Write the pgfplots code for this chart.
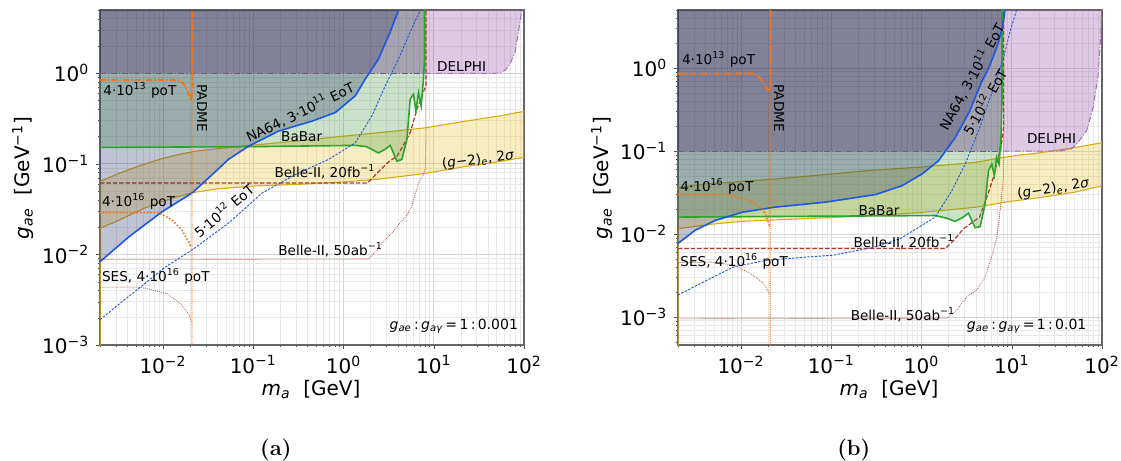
\documentclass[border=0pt]{standalone}
\usepackage{fontspec}
\usepackage{pgfplots}
\pgfplotsset{compat=1.18}
\newfontfamily\dejavu{DejaVu Sans}
\newcommand\fsz[1]{\fontsize{#1}{#1}\selectfont}
\definecolor{na64}{RGB}{30,88,225}
\definecolor{na64fill}{RGB}{30,40,100}
\definecolor{babar}{RGB}{44,165,44}
\definecolor{babarfill}{RGB}{60,150,60}
\definecolor{gm2line}{RGB}{218,172,20}
\definecolor{gm2fill}{RGB}{232,200,64}
\definecolor{belle}{RGB}{178,52,40}
\definecolor{belletwo}{RGB}{180,70,55}
\definecolor{padme}{RGB}{245,115,20}
\definecolor{ses}{RGB}{185,75,40}
\definecolor{delphi}{RGB}{150,80,170}
\definecolor{delphiline}{RGB}{165,110,190}
\definecolor{grayreg}{RGB}{45,40,70}
\definecolor{grayline}{RGB}{110,95,130}
\newcommand\gae{{\itshape g}\textsubscript{\itshape ae}}
\newcommand\gag{{\itshape g}\textsubscript{\itshape aγ}}
\newcommand\mneg{−}
\tikzset{ann/.style={font=\dejavu\fsz{6.8}, inner sep=0pt, text=black}}
\begin{document}
\begin{tikzpicture}
\useasboundingbox (0,0) rectangle (560.5pt,230.5pt);
%================ panel (a) ================
\begin{axis}[xmode=log, ymode=log, scale only axis, width=212pt, height=167.5pt,
    at={(50pt,58pt)}, anchor=south west,
    xmin=0.002, xmax=100, ymin=0.001, ymax=5,
    xtick={0.01,0.1,1,10,100},
    xticklabels={10\textsuperscript{\mneg2},10\textsuperscript{\mneg1},10\textsuperscript{0},10\textsuperscript{1},10\textsuperscript{2}},
    minor xtick={0.002,0.003,0.004,0.005,0.006,0.007,0.008,0.009,0.02,0.03,0.04,0.05,0.06,0.07,0.08,0.09,0.2,0.3,0.4,0.5,0.6,0.7,0.8,0.9,2,3,4,5,6,7,8,9,20,30,40,50,60,70,80,90},
    ytick={0.001,0.01,0.1,1},
    yticklabels={10\textsuperscript{\mneg3},10\textsuperscript{\mneg2},10\textsuperscript{\mneg1},10\textsuperscript{0}},
    minor ytick={0.002,0.003,0.004,0.005,0.006,0.007,0.008,0.009,0.02,0.03,0.04,0.05,0.06,0.07,0.08,0.09,0.2,0.3,0.4,0.5,0.6,0.7,0.8,0.9,2,3,4,5},
    grid=both,
    major grid style={black!17,line width=0.4pt},
    minor grid style={black!9,line width=0.35pt},
    tick align=outside, xtick pos=left, ytick pos=left,
    major tick length=1.8pt, minor tick length=1pt,
    tick style={black!70},
    axis line style={black!60,line width=0.6pt},
    tick label style={font=\dejavu\fsz{10}},
    clip=true]
% (g-2)_e band
\addplot[draw=none, fill=gm2fill, fill opacity=0.33] coordinates {
 (0.002,0.064) (0.003,0.076) (0.0042,0.0865) (0.0065,0.101) (0.0098,0.1145) (0.015,0.127) (0.023,0.138) (0.04,0.147) (0.063,0.154) (0.12,0.164) (0.29,0.178) (0.7,0.195) (1.6,0.212) (4,0.232) (8,0.25) (23,0.297) (50,0.335) (100,0.38)
 (100,0.118) (50,0.105) (23,0.094) (7.8,0.078) (2.5,0.068) (1,0.063) (0.33,0.0595) (0.1,0.057) (0.04,0.053) (0.021,0.048) (0.014,0.043) (0.0095,0.038) (0.006,0.032) (0.0042,0.027) (0.003,0.023) (0.002,0.0195)};
\addplot[gm2line, line width=0.55pt] coordinates {
 (0.002,0.064) (0.003,0.076) (0.0042,0.0865) (0.0065,0.101) (0.0098,0.1145) (0.015,0.127) (0.023,0.138) (0.04,0.147) (0.063,0.154) (0.12,0.164) (0.29,0.178) (0.7,0.195) (1.6,0.212) (4,0.232) (8,0.25) (23,0.297) (50,0.335) (100,0.38)};
\addplot[gm2line, line width=0.55pt] coordinates {
 (0.002,0.0001) (0.002,0.0195) (0.003,0.023) (0.0042,0.027) (0.006,0.032) (0.0095,0.038) (0.014,0.043) (0.021,0.048) (0.04,0.053) (0.1,0.057) (0.33,0.0595) (1,0.063) (2.5,0.068) (7.8,0.078) (23,0.094) (50,0.105) (100,0.118)};
% Belle-II 20fb
\addplot[belle, line width=0.6pt, dash pattern=on 2.2pt off 1pt] coordinates {
 (0.002,0.0615) (1.85,0.0615) (2.44,0.082) (3.15,0.105) (3.9,0.121) (4.43,0.15) (5.48,0.221) (6.5,0.40) (7.8,0.65) (8.2,0.72) (8.2,6)};
% BaBar region
\addplot[draw=none, fill=babarfill, fill opacity=0.28] coordinates {
 (0.002,0.152) (0.1,0.155) (1.35,0.16) (1.8,0.155) (2.44,0.132) (2.9,0.145) (3.29,0.160) (3.6,0.13) (3.9,0.107) (4.43,0.112) (5.04,0.186) (5.48,0.518) (5.96,0.589) (6.34,0.384) (6.78,0.615) (7.25,0.436) (7.69,0.865) (7.8,1) (0.002,1)};
% NA64 region
\addplot[draw=none, fill=na64fill, fill opacity=0.28] coordinates {
 (0.002,0.0083) (0.0042,0.0157) (0.0098,0.0297) (0.0209,0.0476) (0.035,0.076) (0.053,0.112) (0.089,0.157) (0.19,0.23) (0.45,0.297) (0.81,0.369) (1.35,0.564) (1.74,0.864) (2.44,1.44) (3.29,2.86) (4.06,4.96) (4.2,6) (0.002,6)};
% gray region
\addplot[draw=none, fill=grayreg, fill opacity=0.43] coordinates {(0.002,1) (7.9,1) (7.9,6) (0.002,6)};
% DELPHI
\addplot[draw=none, fill=delphi, fill opacity=0.3] coordinates {
 (8.0,6) (8.0,1) (48,1) (54.3,1.02) (62,1.08) (70.1,1.27) (79.6,1.71) (86.7,2.86) (94.6,4.96) (95,6)};
\addplot[grayline, line width=0.5pt, dash pattern=on 3pt off 1pt on 0.6pt off 1pt] coordinates {(0.002,1) (7.9,1)};
\addplot[delphiline, line width=0.5pt, dash pattern=on 3pt off 1pt on 0.6pt off 1pt] coordinates {
 (8.0,1) (48,1) (54.3,1.02) (62,1.08) (70.1,1.27) (79.6,1.71) (86.7,2.86) (94.6,4.96) (95,6)};
% Belle-II 50ab
\addplot[belletwo, line width=0.55pt, line cap=round, dash pattern=on 0pt off 1pt] coordinates {
 (0.002,0.0088) (1.9,0.0089) (2.3,0.011) (2.76,0.0138) (3.4,0.017) (4.2,0.0221) (5.0,0.027) (5.72,0.034) (6.78,0.0615) (7.6,0.075) (8.1,0.09) (8.2,0.2) (8.2,6)};
% BaBar line
\addplot[babar, line width=0.8pt] coordinates {
 (0.002,0.152) (0.1,0.155) (1.35,0.16) (1.8,0.155) (2.44,0.132) (2.9,0.145) (3.29,0.160) (3.6,0.13) (3.9,0.107) (4.43,0.112) (5.04,0.186) (5.48,0.518) (5.96,0.589) (6.34,0.384) (6.78,0.615) (7.25,0.436) (7.69,0.865) (7.89,1.44) (7.9,6)};
% NA64 5e12 EoT
\addplot[na64, line width=0.45pt, dash pattern=on 1.2pt off 0.7pt] coordinates {
 (0.002,0.0019) (0.0035,0.003) (0.006,0.0046) (0.0105,0.0072) (0.0209,0.0112) (0.053,0.0221) (0.125,0.0476) (0.292,0.076) (0.682,0.112) (1.35,0.171) (2.06,0.338) (2.9,0.728) (4.06,1.44) (5.48,2.86) (7.06,4.96) (7.3,6)};
% NA64 3e11 EoT
\addplot[na64, line width=0.8pt] coordinates {
 (0.002,0.0083) (0.0042,0.0157) (0.0098,0.0297) (0.0209,0.0476) (0.035,0.076) (0.053,0.112) (0.089,0.157) (0.19,0.23) (0.45,0.297) (0.81,0.369) (1.35,0.564) (1.74,0.864) (2.44,1.44) (3.29,2.86) (4.06,4.96) (4.2,6)};
% SES
\addplot[ses, line width=0.55pt, line cap=round, dash pattern=on 0pt off 1pt] coordinates {
 (0.002,0.00436) (0.0056,0.00436) (0.0111,0.00369) (0.0156,0.00286) (0.0192,0.00221) (0.0209,0.00178)};
% 4e16 poT
\addplot[padme, line width=1.1pt, line cap=round, dash pattern=on 0pt off 1.7pt] coordinates {
 (0.002,0.029) (0.0089,0.029) (0.0126,0.024) (0.0162,0.0186) (0.0192,0.0138) (0.0207,0.0118)};
% PADME
\addplot[padme, line width=0.7pt, line cap=round, dash pattern=on 0pt off 1.1pt] coordinates {(0.0209,0.0001) (0.0209,6)};
% 4e13 poT
\addplot[padme, line width=1pt, dash pattern=on 3pt off 1pt on 0.8pt off 1pt] coordinates {
 (0.002,0.84) (0.0125,0.845) (0.015,0.83) (0.0167,0.78) (0.0183,0.67) (0.0196,0.56) (0.0205,0.5) (0.0211,0.7) (0.0211,6)};
% labels
\node[ann, anchor=west] at (rel axis cs:0.007,0.761) {4·10\textsuperscript{13} poT};
\node[ann, rotate=-90] at (rel axis cs:0.2406,0.707) {PADME};
\node[ann, rotate=26] at (rel axis cs:0.4717,0.696) {NA64, 3·10\textsuperscript{11} EoT};
\node[ann] at (rel axis cs:0.4757,0.622) {BaBar};
\node[ann] at (rel axis cs:0.5307,0.517) {Belle-II, 20fb\textsuperscript{\mneg1}};
\node[ann, rotate=7] at (rel axis cs:0.8915,0.552) {({\itshape g}\mneg2)\textsubscript{\itshape e}, 2{\itshape σ}};
\node[ann] at (rel axis cs:0.853,0.830) {DELPHI};
\node[ann, anchor=west] at (rel axis cs:0.004,0.428) {4·10\textsuperscript{16} poT};
\node[ann, rotate=40] at (rel axis cs:0.2908,0.403) {5·10\textsuperscript{12} EoT};
\node[ann] at (rel axis cs:0.544,0.2836) {Belle-II, 50ab\textsuperscript{\mneg1}};
\node[ann, anchor=west] at (rel axis cs:0.004,0.204) {SES, 4·10\textsuperscript{16} poT};
\node[ann, font=\dejavu\fsz{7}, anchor=east] at (rel axis cs:0.9866,0.0546) {\gae\,:\,\gag\,=\,1\,:\,0.001};
\end{axis}
%================ panel (b) ================
\begin{axis}[xmode=log, ymode=log, scale only axis, width=212pt, height=167.5pt,
    at={(339pt,58pt)}, anchor=south west,
    xmin=0.002, xmax=100, ymin=0.00046, ymax=5,
    xtick={0.01,0.1,1,10,100},
    xticklabels={10\textsuperscript{\mneg2},10\textsuperscript{\mneg1},10\textsuperscript{0},10\textsuperscript{1},10\textsuperscript{2}},
    minor xtick={0.002,0.003,0.004,0.005,0.006,0.007,0.008,0.009,0.02,0.03,0.04,0.05,0.06,0.07,0.08,0.09,0.2,0.3,0.4,0.5,0.6,0.7,0.8,0.9,2,3,4,5,6,7,8,9,20,30,40,50,60,70,80,90},
    ytick={0.001,0.01,0.1,1},
    yticklabels={10\textsuperscript{\mneg3},10\textsuperscript{\mneg2},10\textsuperscript{\mneg1},10\textsuperscript{0}},
    minor ytick={0.0005,0.0006,0.0007,0.0008,0.0009,0.002,0.003,0.004,0.005,0.006,0.007,0.008,0.009,0.02,0.03,0.04,0.05,0.06,0.07,0.08,0.09,0.2,0.3,0.4,0.5,0.6,0.7,0.8,0.9,2,3,4,5},
    grid=both,
    major grid style={black!17,line width=0.4pt},
    minor grid style={black!9,line width=0.35pt},
    tick align=outside, xtick pos=left, ytick pos=left,
    major tick length=1.8pt, minor tick length=1pt,
    tick style={black!70},
    axis line style={black!60,line width=0.6pt},
    tick label style={font=\dejavu\fsz{10}},
    clip=true]
\addplot[draw=none, fill=gm2fill, fill opacity=0.33] coordinates {
 (0.002,0.036) (0.004,0.04) (0.01,0.043) (0.024,0.046) (0.07,0.051) (0.3,0.059) (1,0.064) (4,0.073) (8,0.084) (23,0.097) (50,0.11) (100,0.126)
 (100,0.038) (50,0.032) (23,0.028) (8,0.024) (4,0.021) (1,0.0182) (0.3,0.0167) (0.1,0.0158) (0.024,0.0148) (0.01,0.0142) (0.005,0.0132) (0.002,0.0116)};
\addplot[gm2line, line width=0.55pt] coordinates {
 (0.002,0.036) (0.004,0.04) (0.01,0.043) (0.024,0.046) (0.07,0.051) (0.3,0.059) (1,0.064) (4,0.073) (8,0.084) (23,0.097) (50,0.11) (100,0.126)};
\addplot[gm2line, line width=0.55pt] coordinates {
 (0.002,0.0001) (0.002,0.0116) (0.005,0.0132) (0.01,0.0142) (0.024,0.0148) (0.1,0.0158) (0.3,0.0167) (1,0.0182) (4,0.021) (8,0.024) (23,0.028) (50,0.032) (100,0.038)};
\addplot[belle, line width=0.6pt, dash pattern=on 2.2pt off 1pt] coordinates {
 (0.002,0.00667) (1.85,0.0067) (2.3,0.0085) (2.9,0.0115) (4.4,0.016) (5.3,0.0278) (6.25,0.048) (7.1,0.084) (7.9,0.145) (8.1,0.2) (8.1,6)};
\addplot[draw=none, fill=babarfill, fill opacity=0.28] coordinates {
 (0.002,0.016) (1.42,0.0167) (1.9,0.0155) (2.36,0.0142) (2.9,0.016) (3.31,0.0178) (3.93,0.0119) (4.46,0.0123) (5.07,0.0231) (5.52,0.058) (6.0,0.0695) (6.41,0.0505) (6.8,0.0836) (7.23,0.0695) (7.45,0.1) (0.002,0.1)};
\addplot[draw=none, fill=na64fill, fill opacity=0.28] coordinates {
 (0.002,0.0077) (0.0031,0.0111) (0.0052,0.0146) (0.0103,0.0183) (0.024,0.0211) (0.086,0.0242) (0.31,0.0299) (0.61,0.0383) (1.01,0.0528) (1.54,0.0763) (2.36,0.145) (3.4,0.30) (4.66,0.69) (5.3,0.9) (6.2,1.35) (7.1,2.0) (7.9,3.2) (8.43,5) (8.6,6) (0.002,6)};
\addplot[draw=none, fill=grayreg, fill opacity=0.43] coordinates {(0.002,0.1) (7.8,0.1) (7.8,6) (0.002,6)};
\addplot[draw=none, fill=delphi, fill opacity=0.3] coordinates {
 (8.07,6) (8.07,0.1) (34.2,0.1) (45,0.105) (52.3,0.121) (67.6,0.175) (79.8,0.332) (90.7,0.832) (96.4,2.29) (99,5) (99.2,6)};
\addplot[grayline, line width=0.5pt, dash pattern=on 3pt off 1pt on 0.6pt off 1pt] coordinates {(0.002,0.1) (7.8,0.1)};
\addplot[delphiline, line width=0.5pt, dash pattern=on 3pt off 1pt on 0.6pt off 1pt] coordinates {
 (8.07,0.1) (34.2,0.1) (45,0.105) (52.3,0.121) (67.6,0.175) (79.8,0.332) (90.7,0.832) (96.4,2.29) (99,5) (99.2,6)};
\addplot[belletwo, line width=0.55pt, line cap=round, dash pattern=on 0pt off 1pt] coordinates {
 (0.002,0.00095) (1.91,0.00097) (2.47,0.00122) (3.18,0.00176) (4.1,0.00212) (5.07,0.00306) (6.0,0.0053) (6.83,0.0092) (7.43,0.0192) (8.07,0.048) (8.2,0.2) (8.2,6)};
\addplot[babar, line width=0.8pt] coordinates {
 (0.002,0.016) (1.42,0.0167) (1.9,0.0155) (2.36,0.0142) (2.9,0.016) (3.31,0.0178) (3.93,0.0119) (4.46,0.0123) (5.07,0.0231) (5.52,0.058) (6.0,0.0695) (6.41,0.0505) (6.8,0.0836) (7.23,0.0695) (7.6,0.145) (7.8,0.4) (7.8,6)};
\addplot[na64, line width=0.45pt, dash pattern=on 1.2pt off 0.7pt] coordinates {
 (0.002,0.00184) (0.00357,0.00254) (0.0083,0.00403) (0.0195,0.00484) (0.056,0.0053) (0.106,0.00556) (0.308,0.007) (0.581,0.0088) (1.42,0.016) (2.17,0.0334) (3.04,0.0695) (4.27,0.174) (5.75,0.437) (6.8,0.75) (8.07,1.3) (9.57,2.75) (11.3,5) (11.6,6)};
\addplot[na64, line width=0.8pt] coordinates {
 (0.002,0.0077) (0.0031,0.0111) (0.0052,0.0146) (0.0103,0.0183) (0.024,0.0211) (0.086,0.0242) (0.31,0.0299) (0.61,0.0383) (1.01,0.0528) (1.54,0.0763) (2.36,0.145) (3.4,0.30) (4.66,0.69) (5.3,0.9) (6.2,1.35) (7.1,2.0) (7.9,3.2) (8.43,5) (8.6,6)};
\addplot[ses, line width=0.55pt, line cap=round, dash pattern=on 0pt off 1pt] coordinates {
 (0.002,0.0045) (0.0046,0.0046) (0.0083,0.00422) (0.0127,0.00335) (0.0179,0.00254) (0.021,0.00184)};
\addplot[padme, line width=1.1pt, line cap=round, dash pattern=on 0pt off 1.7pt] coordinates {
 (0.002,0.03) (0.007,0.03) (0.0127,0.0253) (0.0179,0.0192) (0.0203,0.0133) (0.021,0.012)};
\addplot[padme, line width=0.7pt, line cap=round, dash pattern=on 0pt off 1.1pt] coordinates {(0.021,0.0001) (0.021,6)};
\addplot[padme, line width=1pt, dash pattern=on 3pt off 1pt on 0.8pt off 1pt] coordinates {
 (0.002,0.855) (0.0133,0.86) (0.0155,0.8) (0.0172,0.693) (0.0195,0.56) (0.0203,0.526) (0.0212,0.6) (0.0212,6)};
\node[ann, anchor=west] at (rel axis cs:0.0087,0.854) {4·10\textsuperscript{13} poT};
\node[ann, rotate=-90] at (rel axis cs:0.2382,0.7066) {PADME};
\node[ann, rotate=61] at (rel axis cs:0.692,0.801) {NA64, 3·10\textsuperscript{11} EoT};
\node[ann, rotate=60] at (rel axis cs:0.722,0.727) {5·10\textsuperscript{12} EoT};
\node[ann] at (rel axis cs:0.881,0.617) {DELPHI};
\node[ann, rotate=9] at (rel axis cs:0.885,0.466) {({\itshape g}\mneg2)\textsubscript{\itshape e}, 2{\itshape σ}};
\node[ann, anchor=west] at (rel axis cs:0.0047,0.4725) {4·10\textsuperscript{16} poT};
\node[ann] at (rel axis cs:0.474,0.40) {BaBar};
\node[ann] at (rel axis cs:0.533,0.3066) {Belle-II, 20fb\textsuperscript{\mneg1}};
\node[ann, anchor=west] at (rel axis cs:0.0047,0.2487) {SES, 4·10\textsuperscript{16} poT};
\node[ann] at (rel axis cs:0.5307,0.0896) {Belle-II, 50ab\textsuperscript{\mneg1}};
\node[ann, font=\dejavu\fsz{7}, anchor=east] at (rel axis cs:0.964,0.0546) {\gae\,:\,\gag\,=\,1\,:\,0.01};
\end{axis}
% axis labels and captions
\node[font=\dejavu\fsz{10}, rotate=90] at (11.5pt,141.5pt) {\gae\ \ [GeV\textsuperscript{\mneg1}]};
\node[font=\dejavu\fsz{10}, rotate=90] at (301pt,141.5pt) {\gae\ \ [GeV\textsuperscript{\mneg1}]};
\node[font=\dejavu\fsz{10}] at (155.5pt,35.5pt) {{\itshape m}\textsubscript{\itshape a}\ \ [GeV]};
\node[font=\dejavu\fsz{10}] at (444.5pt,35.5pt) {{\itshape m}\textsubscript{\itshape a}\ \ [GeV]};
\node[font=\fsz{11}\bfseries] at (137.9pt,5.5pt) {(a)};
\node[font=\fsz{11}\bfseries] at (426.9pt,5.5pt) {(b)};
\end{tikzpicture}
\end{document}
